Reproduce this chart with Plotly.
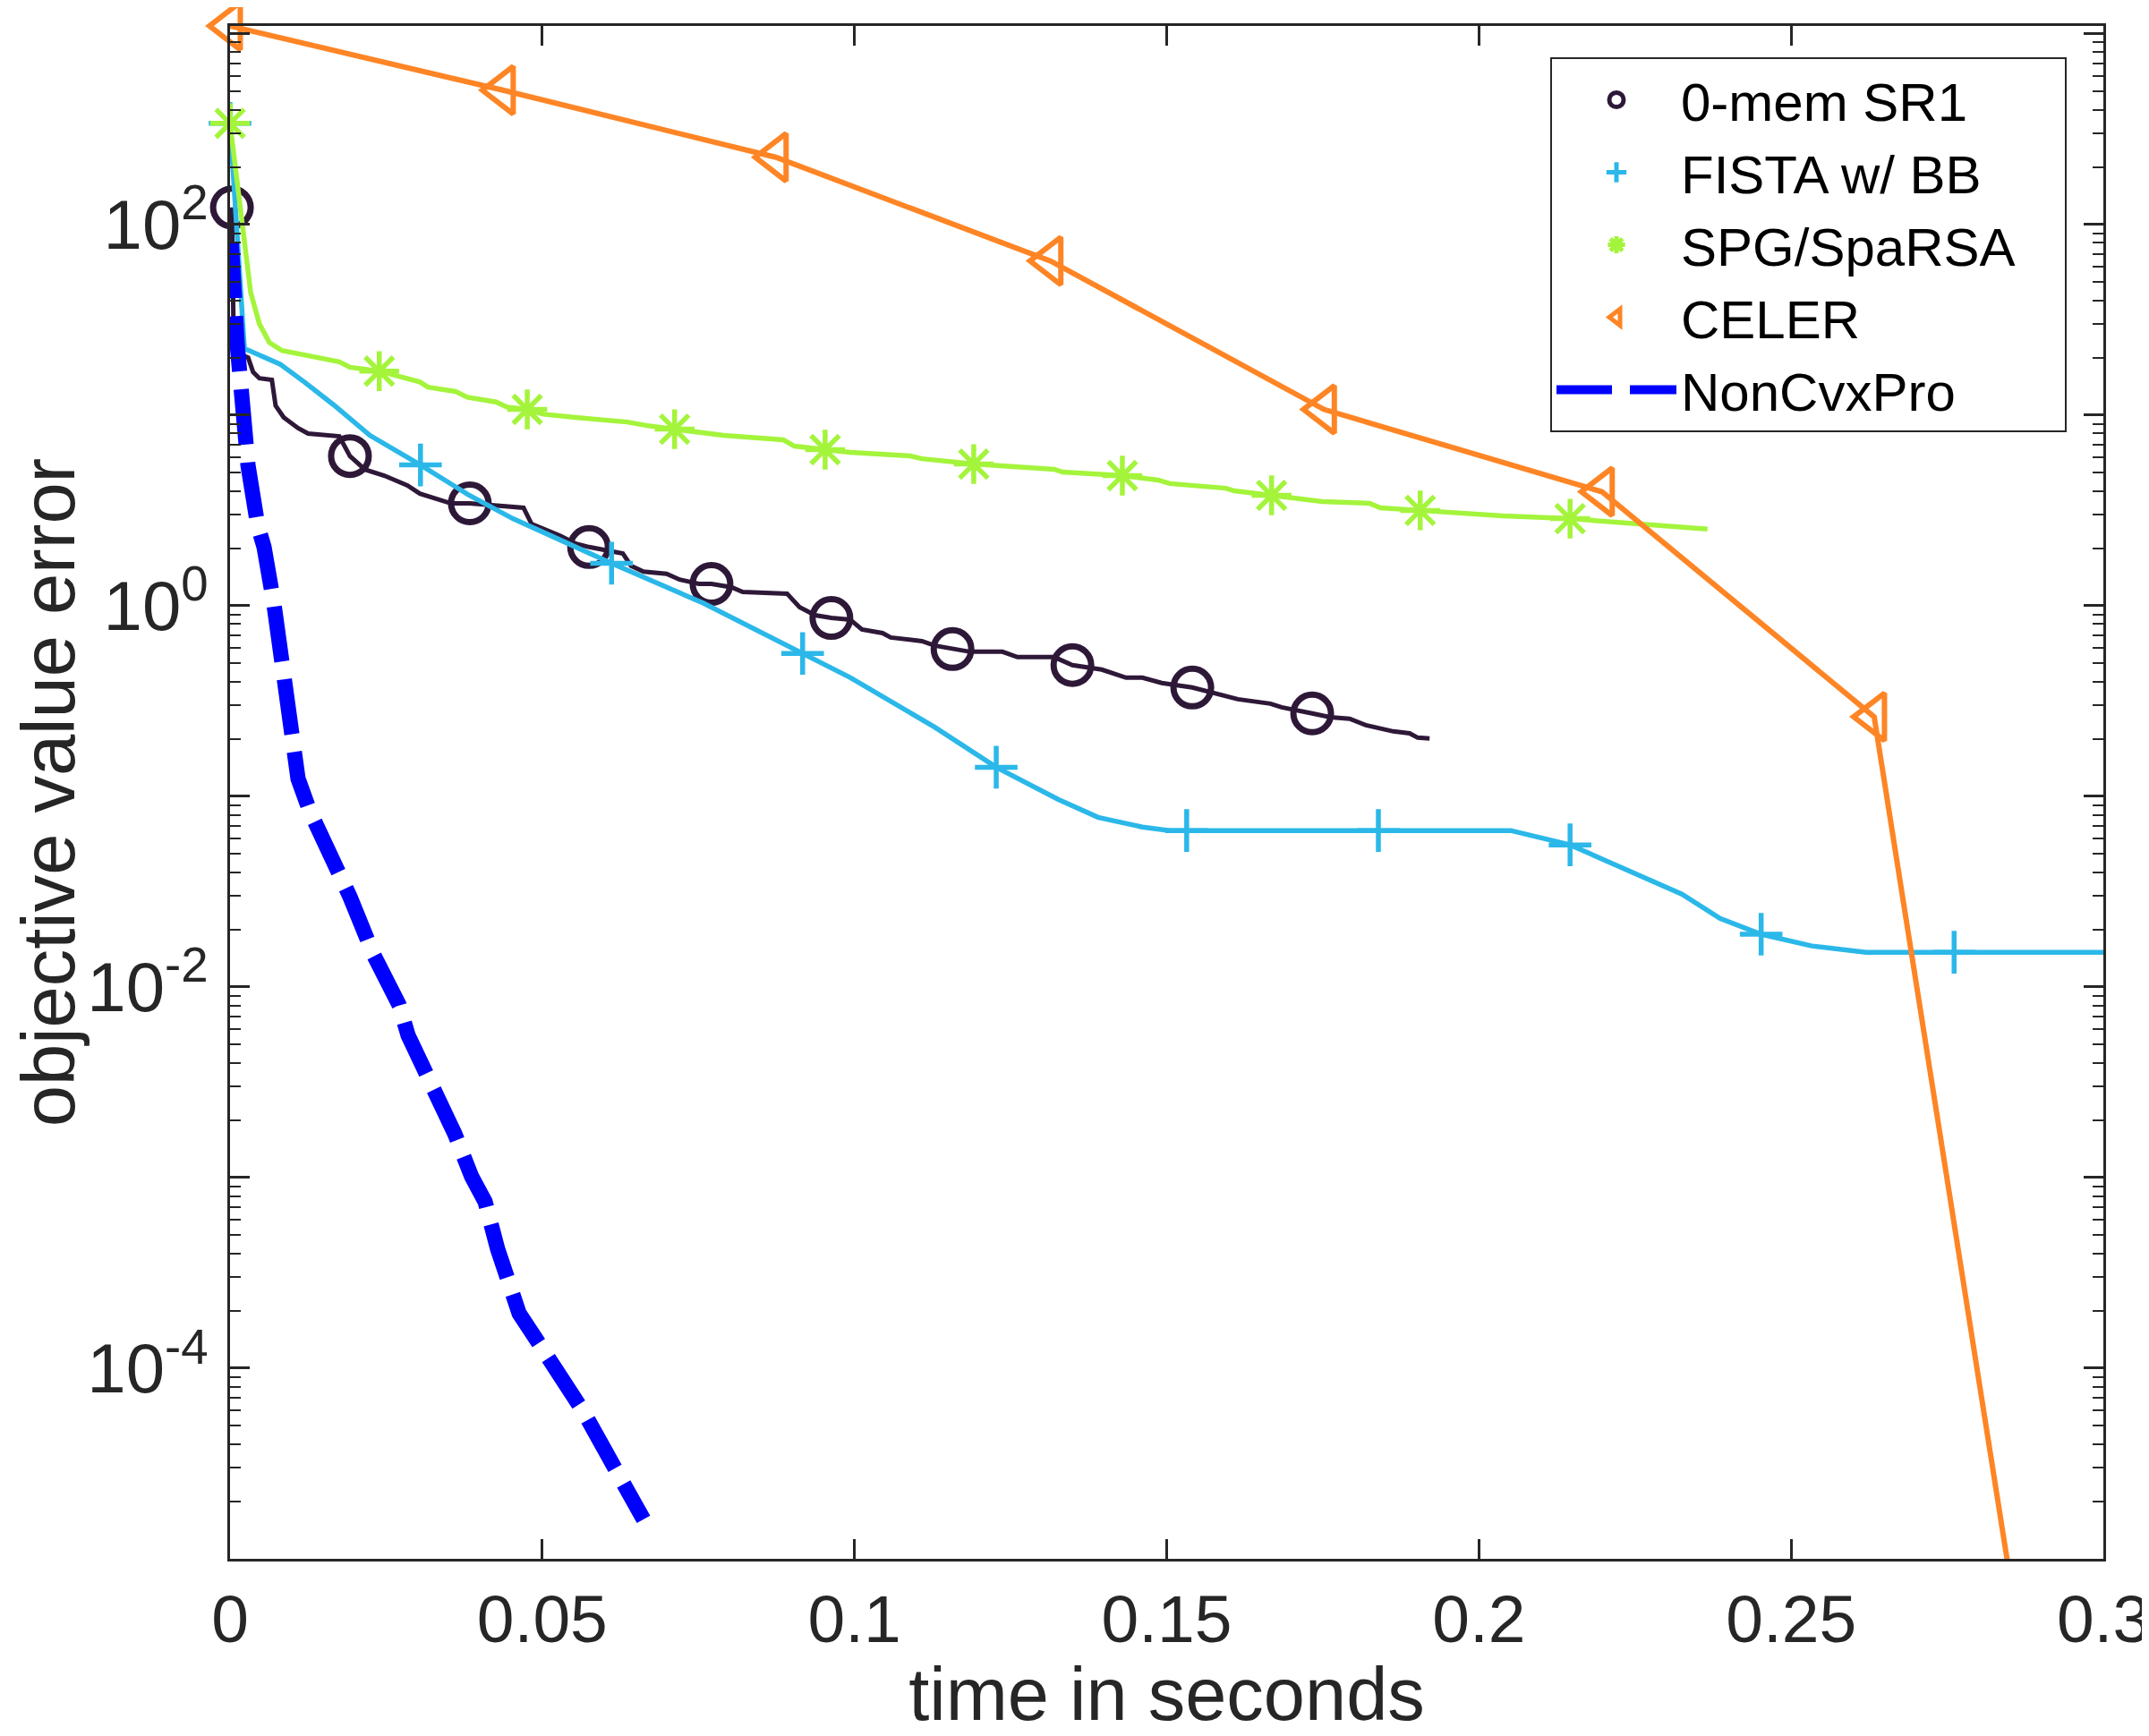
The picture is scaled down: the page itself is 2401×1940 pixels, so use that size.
import math
import plotly.graph_objects as go

# ---------------- data ----------------
sr1_t = [0.0003, 0.0006, 0.0009, 0.0029, 0.0037, 0.0047, 0.0067, 0.0073, 0.0086, 0.0096,
         0.0109, 0.0125, 0.0175, 0.0192, 0.0216, 0.0247, 0.0284, 0.0304, 0.0335, 0.0354,
         0.0384, 0.0470, 0.0483, 0.0528, 0.0553, 0.0575, 0.0629, 0.0642, 0.0662, 0.0699,
         0.0720, 0.0751, 0.0771, 0.0803, 0.0821, 0.0892, 0.0912, 0.0937, 0.0963, 0.0993,
         0.1012, 0.1045, 0.1058, 0.1108, 0.1128, 0.1157, 0.1185, 0.1237, 0.1261, 0.1320,
         0.1349, 0.1396, 0.1435, 0.1461, 0.1492, 0.1541, 0.1588, 0.1614, 0.1666, 0.1684,
         0.1733, 0.1762, 0.1793, 0.1819, 0.1863, 0.1889, 0.1902, 0.1921]
sr1_err = [122.7, 22.3, 21.3, 20.0, 16.8, 15.6, 15.3, 11.2, 9.71, 9.19,
           8.53, 7.99, 7.73, 6.09, 5.18, 4.81, 4.27, 3.87, 3.59, 3.44,
           3.44, 3.26, 2.68, 2.33, 2.12, 2.03, 1.88, 1.62, 1.51, 1.47,
           1.37, 1.30, 1.30, 1.25, 1.18, 1.156, 0.982, 0.891, 0.862, 0.845,
           0.750, 0.718, 0.681, 0.652, 0.618, 0.592, 0.573, 0.573, 0.537, 0.537,
           0.488, 0.462, 0.419, 0.419, 0.393, 0.372, 0.337, 0.323, 0.306, 0.293,
           0.272, 0.260, 0.255, 0.236, 0.219, 0.214, 0.203, 0.201]
sr1_marks = [0, 13, 20, 25, 32, 38, 45, 50, 55, 60]

fista_t = [0.0, 0.0023, 0.0033, 0.0080, 0.0119, 0.0166, 0.0224, 0.0305, 0.0381, 0.0453,
           0.0516, 0.0611, 0.0758, 0.0917, 0.0993, 0.1128, 0.1227, 0.1326, 0.1390, 0.1461,
           0.1505, 0.1532, 0.1839, 0.2051, 0.2146, 0.2229, 0.2325, 0.2386, 0.2452, 0.2533,
           0.2620, 0.2761, 0.3000]
fista_err = [339, 22.3, 21.6, 18.5, 14.9, 11.3, 7.82, 5.47, 3.83, 2.86,
             2.31, 1.67, 1.03, 0.561, 0.42, 0.231, 0.142, 0.0964, 0.0776, 0.069,
             0.0661, 0.0661, 0.0661, 0.0661, 0.0556, 0.0425, 0.0307, 0.0229, 0.0189, 0.0164,
             0.0152, 0.0152, 0.0152]
fista_marks = [0, 7, 11, 13, 16, 21, 22, 24, 28, 31]

spg_t = [0.0, 0.0033, 0.0047, 0.0063, 0.0083, 0.0143, 0.0175, 0.0192, 0.0239, 0.0304,
         0.0317, 0.0361, 0.0380, 0.0426, 0.0444, 0.0476, 0.0502, 0.0553, 0.0605, 0.0636,
         0.0668, 0.0712, 0.0758, 0.0790, 0.0886, 0.0904, 0.0953, 0.0993, 0.1089, 0.1108,
         0.1191, 0.1320, 0.1333, 0.1429, 0.1486, 0.1505, 0.1595, 0.1608, 0.1668, 0.1749,
         0.1825, 0.1842, 0.1906, 0.2038, 0.2146, 0.2262, 0.2366]
spg_err = [339, 44.0, 30.1, 24.0, 21.8, 20.0, 19.0, 17.8, 17.0, 14.9,
           14.0, 13.3, 12.4, 11.7, 11.0, 10.7, 10.1, 9.71, 9.39, 9.19,
           8.80, 8.43, 8.16, 7.82, 7.41, 6.87, 6.58, 6.37, 6.10, 5.90,
           5.53, 5.19, 5.02, 4.81, 4.56, 4.37, 4.13, 4.00, 3.79, 3.52,
           3.44, 3.26, 3.16, 2.96, 2.86, 2.69, 2.52]
spg_marks = [0, 8, 15, 21, 26, 30, 33, 38, 42, 44]

celer_t = [0.0, 0.0437, 0.0874, 0.1314, 0.1752, 0.2197, 0.2633, 0.3072]
celer_err = [1099, 506, 225, 64.3, 10.7, 3.96, 0.261, 2e-10]
celer_marks = [0, 1, 2, 3, 4, 5, 6]

ncp_t = [0.0002, 0.00043, 0.00072, 0.00115, 0.00143, 0.00215, 0.00287, 0.00444, 0.00545, 0.00702,
         0.00788, 0.00917, 0.01089, 0.01276, 0.01462, 0.01691, 0.01921, 0.02293, 0.02508, 0.02709,
         0.02852, 0.03125, 0.03325, 0.03598, 0.03870, 0.04085, 0.04286, 0.04501, 0.04630, 0.04902,
         0.05318, 0.05662, 0.06006, 0.06350, 0.06622]
ncp_err = [80, 39.5, 30.8, 23.5, 18.5, 10.1, 5.47, 2.63, 2.03, 1.026,
           0.631, 0.255, 0.1236, 0.0838, 0.0625, 0.0468, 0.0297, 0.0149, 0.0109, 0.00804,
           0.00557, 0.00370, 0.00270, 0.00170, 0.00101, 0.000747, 0.000421, 0.000265, 0.000194, 0.000142,
           8.9e-5, 5.9e-5, 3.7e-5, 2.21e-5, 1.61e-5]

names = ["0-mem SR1", "FISTA w/ BB", "SPG/SpaRSA\u00a0\u00a0\u00a0", "CELER", "NonCvxPro"]
x_ticks = [0, 0.05, 0.1, 0.15, 0.2, 0.25, 0.3]
x_ticktext = ["0", "0.05", "0.1", "0.15", "0.2", "0.25", "0.3"]
y_decades = [-5, -4, -3, -2, -1, 0, 1, 2, 3]
y_labeled = [-4, -2, 0, 2]

# ---------------- styles ----------------
FONT = "Liberation Sans, Arial, Helvetica, sans-serif"
AX = "#262626"
C_SR1 = "#2E1838"
C_FISTA = "#2BB8E9"
C_SPG = "#A4F43C"
C_CELER = "#FE8525"
C_NCP = "#0000FF"

# page body has an 8px margin: figure is placed at (8, 8) in the window
FIG_W, FIG_H = 2393, 1932
ML, MR, MT, MB = 249, 51, 21, 198
PW, PH = FIG_W - ML - MR, FIG_H - MT - MB

fig = go.Figure()


def add_series(t, err, marks, name, color, lw, symbol, msize, mlw):
    fig.add_trace(go.Scatter(x=t, y=err, mode="lines", line=dict(color=color, width=lw),
                             showlegend=False, hoverinfo="skip"))
    fig.add_trace(go.Scatter(x=[t[i] for i in marks], y=[err[i] for i in marks],
                             mode="markers", name=name, cliponaxis=False,
                             marker=dict(symbol=symbol, size=msize, color=color,
                                         line=dict(color=color, width=mlw))))


add_series(sr1_t, sr1_err, sr1_marks, names[0], C_SR1, 5, "circle-open", 42, 7)
add_series(fista_t, fista_err, fista_marks, names[1], C_FISTA, 5.5, "cross-thin-open", 34, 5.5)
add_series(spg_t, spg_err, spg_marks, names[2], C_SPG, 5.5, "asterisk-open", 37, 5.5)
add_series(celer_t, celer_err, celer_marks, names[3], C_CELER, 6, "triangle-left-open", 46, 6)
fig.add_trace(go.Scatter(x=ncp_t, y=ncp_err, mode="lines", name=names[4],
                         line=dict(color=C_NCP, width=17, dash="62px,20px")))

major_vals = [10.0 ** e for e in y_decades]
major_text = [("10<sup>%d</sup>" % e) if e in y_labeled else "" for e in y_decades]
minor_vals = [k * 10.0 ** e for e in y_decades[:-1] for k in range(2, 10)]

fig.update_layout(
    template="none",
    width=FIG_W, height=FIG_H, autosize=False,
    margin=dict(l=ML, r=MR, t=MT, b=MB, pad=0),
    paper_bgcolor="white", plot_bgcolor="white",
    font=dict(family=FONT, color=AX),
    showlegend=True,
    legend=dict(x=(1724 - ML) / PW, y=1 - (56 - MT) / PH, xanchor="left", yanchor="top",
                bgcolor="white", bordercolor=AX, borderwidth=2,
                font=dict(size=60, color="black", family=FONT),
                itemwidth=134, tracegroupgap=0),
    xaxis=dict(range=[0, 0.3], tickmode="array", tickvals=x_ticks, ticktext=x_ticktext,
               ticks="inside", ticklen=22, tickwidth=2.5, tickcolor=AX,
               showline=True, linecolor=AX, linewidth=2.5, mirror="ticks",
               showgrid=False, zeroline=False, automargin=False,
               ticklabeloverflow="allow",
               tickfont=dict(size=75, color=AX, family=FONT),
               title=dict(text="time in seconds", font=dict(size=83, color=AX, family=FONT),
                          standoff=36)),
    yaxis=dict(type="log", range=[-5, math.log10(celer_err[0])],
               tickmode="array", tickvals=major_vals, ticktext=major_text,
               ticks="inside", ticklen=22, tickwidth=2.5, tickcolor=AX,
               minor=dict(tickmode="array", tickvals=minor_vals, ticks="inside",
                          ticklen=12, tickwidth=2, tickcolor=AX, showgrid=False),
               showline=True, linecolor=AX, linewidth=2.5, mirror="ticks",
               showgrid=False, zeroline=False, automargin=False,
               ticklabeloverflow="allow", ticklabelstandoff=6,
               tickfont=dict(size=78, color=AX, family=FONT),
               title=dict(text="objective value error", font=dict(size=83, color=AX, family=FONT),
                          standoff=0)),
)

fig.write_html("out.html")
